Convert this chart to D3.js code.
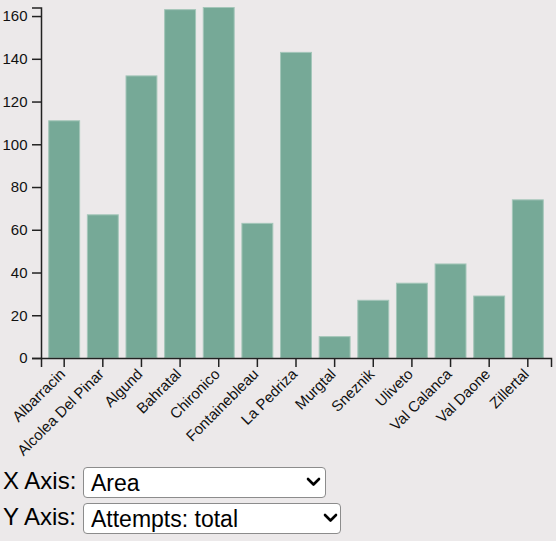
<!DOCTYPE html>
<html>
<head>
<meta charset="utf-8">
<script src="https://cdn.jsdelivr.net/npm/d3@7"></script>
<style>
  html, body { margin: 0; padding: 0; background: #ece9ea; }
  body { width: 556px; height: 541px; position: relative; overflow: hidden; font-family: "Liberation Sans", Arial, sans-serif; }
  #chart { position: absolute; left: 0; top: 0; }
  .lbl { position: absolute; left: 3px; font-size: 24px; line-height: 24px; color: #000; white-space: nowrap; }
  select.sel { position: absolute; left: 83px; height: 31px; box-sizing: border-box; border: 1px solid #8c8c8c; border-radius: 4px;
    background: #fff; font-family: "Liberation Sans", Arial, sans-serif; font-size: 23px; padding: 0 0 0 7px; margin: 0;
    -webkit-appearance: none; appearance: none; color: #000; outline: none; }
  svg.chev { position: absolute; pointer-events: none; }
</style>
</head>
<body>
<svg id="chart" width="556" height="460"></svg>
<div class="lbl" style="top:468.5px">X Axis:</div>
<select class="sel" id="selx" style="top:467px;width:243px"></select>
<svg class="chev" style="left:306px;top:477px" width="15" height="10"><polyline points="2,2 7.5,7.5 13,2" fill="none" stroke="#000" stroke-width="2.6" stroke-linecap="round" stroke-linejoin="round"/></svg>
<div class="lbl" style="top:504.5px">Y Axis:</div>
<select class="sel" id="sely" style="top:503px;width:258px"></select>
<svg class="chev" style="left:323px;top:513px" width="15" height="10"><polyline points="2,2 7.5,7.5 13,2" fill="none" stroke="#000" stroke-width="2.6" stroke-linecap="round" stroke-linejoin="round"/></svg>
<script>
// ---- data ----
const areas = ["Albarracin", "Alcolea Del Pinar", "Algund", "Bahratal", "Chironico", "Fontainebleau",
  "La Pedriza", "Murgtal", "Sneznik", "Uliveto", "Val Calanca", "Val Daone", "Zillertal"];
const attemptsTotal = [111, 67, 132, 163, 164, 63, 143, 10, 27, 35, 44, 29, 74];
const yTickValues = [0, 20, 40, 60, 80, 100, 120, 140, 160];
const xOptions = ["Area"];
const yOptions = ["Attempts: total"];

// ---- controls ----
d3.select("#selx").selectAll("option").data(xOptions).join("option").text(d => d);
d3.select("#sely").selectAll("option").data(yOptions).join("option").text(d => d);

// ---- chart ----
const svg = d3.select("#chart");
const mLeft = 41, mRight = 551, mTop = 7.5, mBottom = 358;

const x = d3.scaleBand().domain(areas).range([mLeft, mRight]).padding(0.2);
const y = d3.scaleLinear().domain([0, d3.max(attemptsTotal)]).range([mBottom, mTop]);

svg.append("g")
  .selectAll("rect")
  .data(areas.map((a, i) => ({ area: a, value: attemptsTotal[i] })))
  .join("rect")
  .attr("x", d => x(d.area))
  .attr("y", d => y(d.value))
  .attr("width", x.bandwidth())
  .attr("height", d => y(0) - y(d.value))
  .attr("fill", "#76a997")
  .attr("stroke", "#a4c6b9")
  .attr("stroke-width", 1);

const xAxis = svg.append("g")
  .attr("transform", `translate(0,${mBottom})`)
  .call(d3.axisBottom(x).tickSize(9).tickPadding(4.5));
xAxis.selectAll("text")
  .attr("transform", "translate(-15,0)rotate(-45)")
  .style("text-anchor", "end");

const yAxis = svg.append("g")
  .attr("transform", `translate(${mLeft},0)`)
  .call(d3.axisLeft(y).tickValues(yTickValues).tickSize(9).tickPadding(4.5));

svg.selectAll(".tick text").attr("font-size", 15).attr("font-family", "'Liberation Sans', Arial, sans-serif").attr("fill", "#111");
svg.selectAll(".domain, .tick line").attr("stroke", "#222").attr("stroke-width", 1.5);
</script>
</body>
</html>
